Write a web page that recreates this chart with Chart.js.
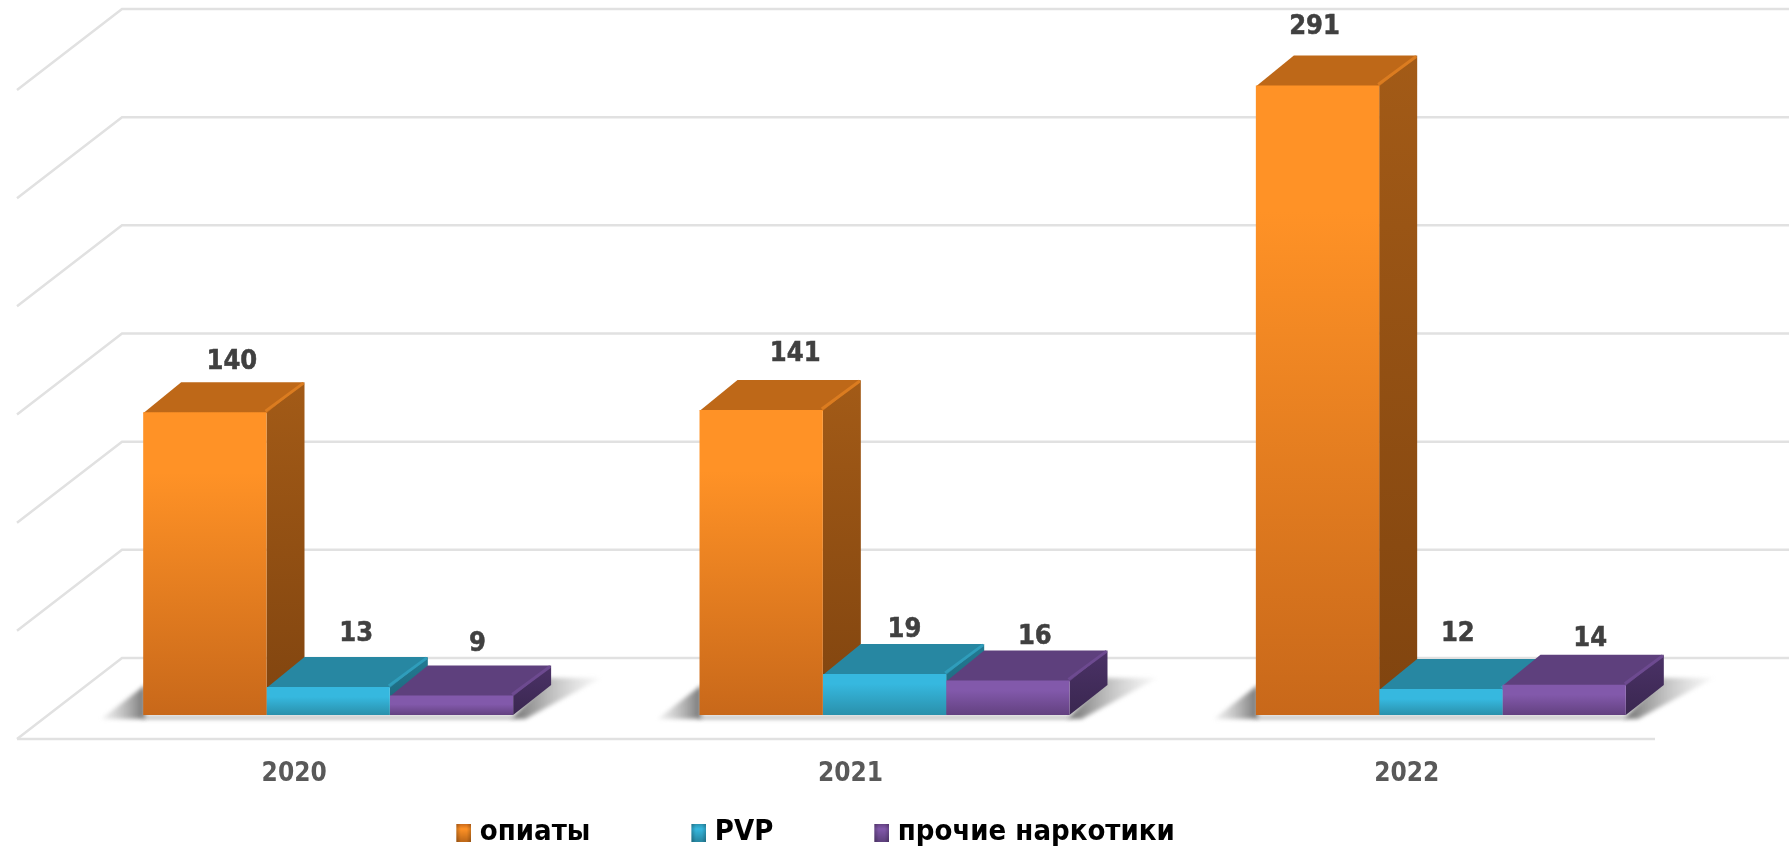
<!DOCTYPE html>
<html><head><meta charset="utf-8">
<style>html,body{margin:0;padding:0;background:#fff}canvas{display:block}</style>
<script src="https://cdn.jsdelivr.net/npm/chart.js@4/dist/chart.umd.js"></script>
</head><body>
<canvas id="c" width="1789" height="850" style="width:1789px;height:850px"></canvas>
<script>
const categories = ['2020', '2021', '2022'];
const seriesNames = ['опиаты', 'PVP', 'прочие наркотики'];
const opiates = [140, 141, 291];
const pvp = [13, 19, 12];
const other = [9, 16, 14];
const gridValues = [0, 50, 100, 150, 200, 250, 300];

const FONT = '"DejaVu Sans Condensed","DejaVu Sans",sans-serif';
const DX = 38, DY = 30, WALL_UP = 57, FLOOR_LEFT = 105, FLOOR_DOWN = 81;
const palette = [
  {hi:'#FF9226', lo:'#C8681A', top:'#BE6818', edge:'#DB7C20', sideHi:'#A35B17', sideLo:'#80440F'},
  {hi:'#36B8DF', lo:'#2A90AB', top:'#2787A2', edge:'#2F9DBB', sideHi:'#237A93', sideLo:'#1C6478'},
  {hi:'#8259AB', lo:'#634180', top:'#5E407D', edge:'#6D4A90', sideHi:'#4B3267', sideLo:'#3A2750'}
];
// label nudges relative to each bar's top centre, per dataset and category
const labelNudge = [
  [[27,-50],[34,-56],[-3,-58]],
  [[28,-53],[20,-44],[17,-55]],
  [[26,-52],[27,-43],[26,-46]]
];

function frontFill(di){
  return c => {
    const chart = c.chart, p = palette[di];
    if (!chart.chartArea || c.parsed === undefined) return p.hi;
    const y = chart.scales.y, t = y.getPixelForValue(c.parsed.y), b = y.getPixelForValue(0);
    const g = chart.ctx.createLinearGradient(0, t, 0, b);
    g.addColorStop(0, p.hi);
    g.addColorStop(b-t > 100 ? 0.2 : Math.min(0.45, 10/(b-t)), p.hi);
    g.addColorStop(1, p.lo);
    return g;
  };
}
function swatch(p){
  const s = document.createElement('canvas'); s.width = 21; s.height = 18;
  const x = s.getContext('2d');
  const g = x.createLinearGradient(0,0,0,18);
  g.addColorStop(0,p.lo); g.addColorStop(0.3,p.hi); g.addColorStop(1,p.top);
  x.fillStyle = g; x.fillRect(6,0,15,18);
  const e = x.createLinearGradient(6,0,21,0);
  e.addColorStop(0,'rgba(0,0,0,0.22)'); e.addColorStop(0.3,'rgba(0,0,0,0)');
  e.addColorStop(0.7,'rgba(0,0,0,0)'); e.addColorStop(1,'rgba(0,0,0,0.22)');
  x.fillStyle = e; x.fillRect(6,0,15,18);
  return s;
}
function poly(ctx, pts, fill){
  ctx.beginPath(); pts.forEach((q,i)=> i?ctx.lineTo(q[0],q[1]):ctx.moveTo(q[0],q[1]));
  ctx.closePath(); ctx.fillStyle = fill; ctx.fill();
}
const scene = {
  id:'scene',
  beforeLayout(chart){
    const l = chart.legend;
    if (!l._fitWrapped){
      const f = l.fit;
      l.fit = function(){ f.call(this); this.height = 20; };
      l._fitWrapped = true;
    }
  },
  afterLayout(chart){ const l = chart.legend; l.left -= 69; l.right -= 69; l.top = 717; l.bottom = 850; },
  beforeDatasetsDraw(chart){
    const ctx = chart.ctx, y = chart.scales.y, base = y.getPixelForValue(0);
    const W = chart.width;
    ctx.save();
    ctx.strokeStyle = '#E1E1E1'; ctx.lineWidth = 2.5; ctx.lineCap = 'butt';
    const wallX = 122, leftX = wallX - FLOOR_LEFT;
    gridValues.forEach(v => {
      const py = y.getPixelForValue(v) - WALL_UP;
      ctx.beginPath(); ctx.moveTo(W, py); ctx.lineTo(wallX, py); ctx.lineTo(leftX, py + FLOOR_DOWN); ctx.stroke();
    });
    const fy = base - WALL_UP + FLOOR_DOWN;
    ctx.beginPath(); ctx.moveTo(leftX, fy); ctx.lineTo(1655, fy); ctx.stroke();
    ctx.restore();

    const metas = [0,1,2].map(i => chart.getDatasetMeta(i));
    categories.forEach((_, ci) => {
      const first = metas[0].data[ci], last = metas[2].data[ci];
      const L = first.x - first.width/2, R = last.x + last.width/2;
      ctx.save(); ctx.filter = 'blur(2px)';
      let g = ctx.createLinearGradient(L-42, 0, L, 0);
      g.addColorStop(0,'rgba(170,170,170,0.15)'); g.addColorStop(1,'rgba(110,110,110,0.9)');
      poly(ctx, [[L-42,base+4],[L+2,base-30],[L+2,base+4]], g);
      poly(ctx, [[L,base+1],[R,base+1],[R,base+4],[L,base+4]], 'rgba(150,150,150,0.8)');
      g = ctx.createLinearGradient(R, 0, R+88, 0);
      g.addColorStop(0,'rgba(100,100,100,0.9)'); g.addColorStop(1,'rgba(190,190,190,0.1)');
      poly(ctx, [[R-2,base+4],[R+12,base+4],[R+88,base-37],[R+36,base-37]], g);
      ctx.restore();

      metas.forEach((m, di) => {
        const el = m.data[ci], p = palette[di];
        const l = el.x - el.width/2, r = el.x + el.width/2, t = el.y;
        let sg = ctx.createLinearGradient(0, t-DY, 0, base);
        sg.addColorStop(0, p.sideHi); sg.addColorStop(1, p.sideLo);
        poly(ctx, [[r,t],[r+DX,t-DY],[r+DX,base-DY],[r,base]], sg);
        poly(ctx, [[l,t+1],[l+DX,t-DY],[r+DX,t-DY],[r,t+1]], p.top);
        ctx.save(); ctx.strokeStyle = p.edge; ctx.lineWidth = 3; ctx.beginPath();
        ctx.moveTo(r-1,t-1); ctx.lineTo(r+DX-1,t-DY+1); ctx.stroke(); ctx.restore();
      });
    });
  },
  afterDatasetsDraw(chart){
    const ctx = chart.ctx;
    ctx.save();
    ctx.font = 'bold 27px ' + FONT; ctx.fillStyle = '#404040'; ctx.strokeStyle = '#404040'; ctx.lineWidth = 0.5;
    ctx.textAlign = 'center'; ctx.textBaseline = 'middle';
    chart.data.datasets.forEach((ds, di) => {
      chart.getDatasetMeta(di).data.forEach((el, ci) => {
        const n = labelNudge[di][ci];
        ctx.fillText(String(ds.data[ci]), el.x + n[0], el.y + n[1]);
        ctx.strokeText(String(ds.data[ci]), el.x + n[0], el.y + n[1]);
      });
    });
    ctx.restore();
  }
};

new Chart(document.getElementById('c'), {
  type:'bar',
  plugins:[scene],
  data:{
    labels:categories,
    datasets:[
      {label:seriesNames[0], data:opiates, backgroundColor:frontFill(0)},
      {label:seriesNames[1], data:pvp, backgroundColor:frontFill(1)},
      {label:seriesNames[2], data:other, backgroundColor:frontFill(2)}
    ]
  },
  options:{
    responsive:false, animation:false,
    layout:{padding:{left:50,right:70,top:66,bottom:35}},
    datasets:{bar:{barPercentage:1,categoryPercentage:0.665,borderWidth:0}},
    scales:{
      x:{
        grid:{display:false,drawTicks:false}, border:{display:false},
        afterFit:s=>{s.height=80;},
        ticks:{color:'#595959',padding:44,labelOffset:-34,maxRotation:0,font:{family:FONT,size:26,weight:'bold'}}
      },
      y:{
        min:0,max:300,
        grid:{display:false}, border:{display:false},
        afterFit:s=>{s.width=0;},
        ticks:{display:false,stepSize:50}
      }
    },
    plugins:{
      tooltip:{enabled:false},
      title:{display:false},
      legend:{
        display:true, position:'bottom', align:'center',
        labels:{
          usePointStyle:true, boxWidth:9, boxHeight:18, padding:101, color:'#000000',
          font:{family:FONT,size:29,weight:'bold'},
          generateLabels(chart){
            return seriesNames.map((t,i)=>({
              text:t,pointStyle:swatch(palette[i]),fillStyle:palette[i].hi,strokeStyle:palette[i].hi,
              lineWidth:0,datasetIndex:i,hidden:false
            }));
          }
        }
      }
    }
  }
});
</script>
</body></html>
